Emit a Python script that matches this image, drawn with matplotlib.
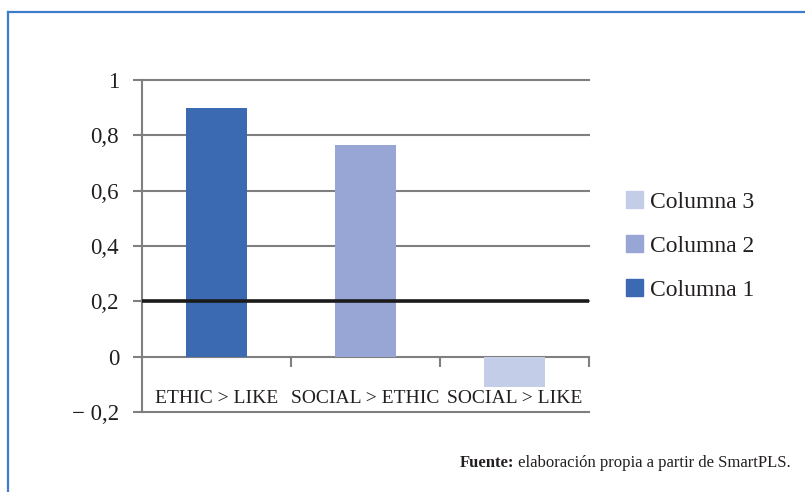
import matplotlib
matplotlib.use("Agg")
import matplotlib.pyplot as plt
from matplotlib.patches import Patch
from matplotlib.lines import Line2D
import numpy as np

categories = ["ETHIC > LIKE", "SOCIAL > ETHIC", "SOCIAL > LIKE"]
series_names = ["Columna 1", "Columna 2", "Columna 3"]
values = [0.90, 0.765, -0.11]
threshold = 0.2
ytick_vals = [-0.2, 0.0, 0.2, 0.4, 0.6, 0.8, 1.0]
ytick_labels = ["\u2212 0,2", "0", "0,2", "0,4", "0,6", "0,8", "1"]
source_bold = "Fuente:"
source_rest = " elaboración propia a partir de SmartPLS."

colors = ["#3C6AB2", "#97A6D5", "#C4CDE7"]
grid_c = "#7F7F7F"
txt_c = "#231F20"

plt.rcParams['font.family'] = ['Liberation Serif', 'DejaVu Serif']

W, H = 805, 492
fig = plt.figure(figsize=(W / 100, H / 100), dpi=100)
ax = fig.add_axes([142 / W, (H - 412) / H, (589 - 142) / W, (412 - 80) / H])

x = np.arange(len(categories))
for i, (v, c, n) in enumerate(zip(values, colors, series_names)):
    ax.bar(x[i], v, width=0.405, color=c, label=n, zorder=2)

ax.set_xlim(-0.5, 2.5)
ax.set_ylim(-0.2, 1.0)

# gridlines
for yv in ytick_vals:
    ax.axhline(yv, color=grid_c, lw=1.5, zorder=1, clip_on=False)
ax.axhline(threshold, color="#1A1A1A", lw=2.6, zorder=3)

for s in ["top", "right", "bottom"]:
    ax.spines[s].set_visible(False)
ax.spines["left"].set_color(grid_c)
ax.spines["left"].set_linewidth(1.5)

ax.set_yticks(ytick_vals)
ax.set_yticklabels(ytick_labels, fontsize=16.5, color=txt_c)
ax.tick_params(axis="y", length=6.5, width=1.5, color=grid_c, pad=10)

# category ticks at y=0
ax.set_xticks([])
tick_y0 = ax.secondary_xaxis(0.2 / 1.2)
tick_y0.spines["bottom"].set_visible(False)
tick_y0.set_xticks([0.5, 1.5, 2.5])
tick_y0.set_xticklabels([])
tick_y0.tick_params(length=7.5, width=1.5, color=grid_c, direction="out")

for i, cat in enumerate(categories):
    ax.text(x[i], -0.152, cat, ha="center", va="center", fontsize=14, color=txt_c)

# legend
handles = [Patch(color=colors[i], label=series_names[i]) for i in [2, 1, 0]]
fig.legend(handles=handles, loc="center left", bbox_to_anchor=(626 / W, (H - 246) / H),
           frameon=False, fontsize=17, handlelength=0.72, handleheight=0.72,
           handletextpad=0.3, labelspacing=0.95, borderpad=0, borderaxespad=0,
           labelcolor=txt_c)

# frame
fig.add_artist(Line2D([8 / W, 8 / W], [0, (H - 12) / H], color="#3D7DCA", lw=1.6))
fig.add_artist(Line2D([8 / W, 1], [(H - 12) / H, (H - 12) / H], color="#3D7DCA", lw=1.6))

# source
ty = (H - 463) / H
t2 = fig.text(791 / W, ty, source_rest, ha="right", va="center", fontsize=12, color=txt_c)
fig.canvas.draw()
bb = t2.get_window_extent()
fig.text(bb.x0 / W, ty, source_bold, ha="right", va="center", fontsize=12,
         fontweight="bold", color=txt_c)

fig.savefig("out.png", dpi=100)
